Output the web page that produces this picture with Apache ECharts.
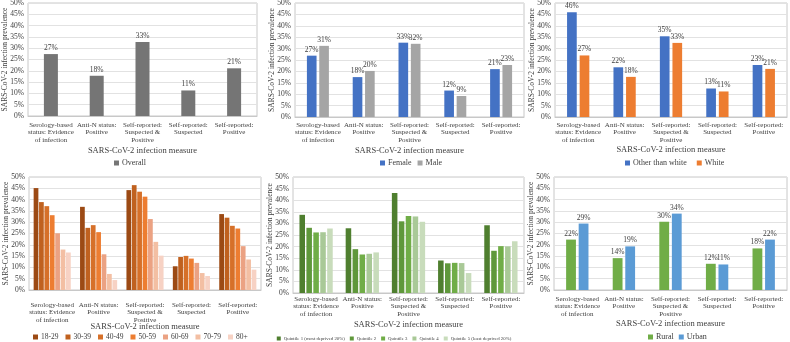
<!DOCTYPE html>
<html>
<head>
<meta charset="utf-8">
<script src="https://cdn.jsdelivr.net/npm/echarts@6/dist/echarts.min.js"></script>
<style>
body { margin: 0; background: #fff; }
.p { position: absolute; }
</style>
</head>
<body>
<div id="c1" class="p" style="left:0;top:0;width:263px;height:171px"></div>
<div id="c2" class="p" style="left:263px;top:0;width:262px;height:171px"></div>
<div id="c3" class="p" style="left:525px;top:0;width:265px;height:171px"></div>
<div id="c4" class="p" style="left:0;top:171px;width:263px;height:171px"></div>
<div id="c5" class="p" style="left:263px;top:171px;width:262px;height:171px"></div>
<div id="c6" class="p" style="left:525px;top:171px;width:265px;height:171px"></div>
<script>
const categories = [
    'Serology-based\nstatus: Evidence\nof infection',
    'Anti-N status:\nPositive',
    'Self-reported:\nSuspected &\nPositive',
    'Self-reported:\nSuspected',
    'Self-reported:\nPositive'
]
const xName = 'SARS-CoV-2 infection measure'
const yName = 'SARS-CoV-2 infection prevalence'

// overall
const overall = [27.4, 17.8, 32.7, 11.3, 21.1]
// sex
const female = [26.9, 17.5, 32.6, 11.6, 21.0]
const male = [31.2, 20.2, 32.1, 9.2, 22.8]
// ethnicity
const otherThanWhite = [45.9, 21.8, 35.4, 12.5, 22.8]
const white = [27.0, 17.6, 32.5, 11.2, 21.1]
// age groups
const ageNames = ['18-29', '30-39', '40-49', '50-59', '60-69', '70-79', '80+']
const age18 = [45.1, 36.8, 44.2, 10.5, 33.6]
const age30 = [38.9, 27.5, 46.4, 14.6, 32.0]
const age40 = [37.1, 28.7, 43.5, 15.1, 28.4]
const age50 = [33.1, 25.6, 41.3, 13.9, 27.2]
const age60 = [25.1, 15.8, 31.4, 12.0, 19.4]
const age70 = [17.9, 7.1, 21.3, 7.5, 13.5]
const age80 = [16.6, 4.4, 15.2, 6.2, 9.0]
// deprivation quintiles
const quintNames = ['Quintile 1 (most deprived 20%)', 'Quintile 2', 'Quintile 3', 'Quintile 4', 'Quintile 5 (least deprived 20%)']
const quint1 = [33.7, 27.9, 43.1, 14.0, 29.2]
const quint2 = [28.1, 18.9, 30.9, 12.8, 18.2]
const quint3 = [26.1, 16.6, 33.2, 13.0, 20.2]
const quint4 = [26.2, 16.9, 33.0, 12.9, 20.1]
const quint5 = [27.8, 17.5, 30.7, 8.6, 22.3]
// rural / urban
const rural = [22.3, 14.1, 30.2, 11.6, 18.4]
const urban = [29.4, 19.3, 33.8, 11.3, 22.3]

const font = 'Liberation Serif'
const txt = '#404040'

// p: grid, labelMargin, nameGap, legend position / font / gap
const build = function (id, p, series) {
    const chart = echarts.init(document.getElementById(id))
    const lf = p.legendFont || 8
    chart.setOption({
        animation: false,
        textStyle: { fontFamily: font, color: txt },
        grid: Object.assign({ show: true, borderColor: '#c8c8c8', borderWidth: 1, outerBoundsMode: 'none' }, p.grid),
        legend: {
            top: p.legendTop,
            left: p.legendLeft,
            padding: 0,
            icon: 'rect',
            itemWidth: lf < 7 ? 4 : 5,
            itemHeight: lf < 7 ? 4 : 5,
            itemGap: p.legendGap,
            textStyle: { fontFamily: font, fontSize: lf, color: txt, padding: [0, 0, 0, -2] }
        },
        xAxis: {
            type: 'category',
            data: categories,
            name: xName,
            nameLocation: 'middle',
            nameGap: p.nameGap,
            nameMoveOverlap: false,
            nameTextStyle: { fontFamily: font, fontSize: 8.5, color: txt },
            axisTick: { show: false },
            axisLine: { lineStyle: { color: '#c8c8c8' } },
            axisLabel: { fontFamily: font, fontSize: 7, color: txt, lineHeight: 7.5, margin: p.labelMargin, interval: 0 }
        },
        yAxis: {
            type: 'value',
            min: 0,
            max: 50,
            interval: 5,
            name: yName,
            nameLocation: 'middle',
            nameGap: 19,
            nameMoveOverlap: false,
            nameTextStyle: { fontFamily: font, fontSize: 7.5, color: txt },
            axisLabel: { formatter: '{value}%', fontFamily: font, fontSize: 7.5, color: txt, margin: 4 },
            splitLine: { lineStyle: { color: '#e2e2e2' } },
            axisLine: { show: false }
        },
        series: series
    })
}

const bar = function (name, data, color, labels, extra) {
    return Object.assign({
        type: 'bar',
        name: name,
        data: data,
        itemStyle: { color: color },
        label: {
            show: labels,
            position: 'top',
            distance: 2,
            fontFamily: font,
            fontSize: 7.5,
            color: txt,
            formatter: p => Math.round(p.value) + '%'
        }
    }, extra || {})
}

build('c1', { grid: { left: 28, width: 229, top: 3, height: 113 }, labelMargin: 5, nameGap: 30.5,
    legendTop: 159, legendLeft: 114, legendGap: 8 }, [
    bar('Overall', overall, '#757575', true, { barWidth: 14 })
])

build('c2', { grid: { left: 32, width: 229, top: 3, height: 114 }, labelMargin: 4, nameGap: 29.5,
    legendTop: 159, legendLeft: 117, legendGap: 6 }, [
    bar('Female', female, '#4472c4', true, { barGap: '28%', barCategoryGap: '52%' }),
    bar('Male', male, '#a5a5a5', true)
])

build('c3', { grid: { left: 30, width: 232, top: 3, height: 114 }, labelMargin: 4, nameGap: 28.5,
    legendTop: 159, legendLeft: 100, legendGap: 10 }, [
    bar('Other than white', otherThanWhite, '#4472c4', true, { barGap: '30%', barCategoryGap: '52%' }),
    bar('White', white, '#ed7d31', true)
])

const ageColors = ['#9c4a14', '#c0611f', '#d67029', '#ed7d31', '#eba283', '#f3bfa3', '#f7d2c4']
const ageData = [age18, age30, age40, age50, age60, age70, age80]
build('c4', { grid: { left: 29, width: 232, top: 6, height: 113 }, labelMargin: 11, nameGap: 32,
    legendTop: 162, legendLeft: 33, legendGap: 7, legendFont: 7.5 },
    ageData.map((d, i) => bar(ageNames[i], d, ageColors[i], false,
        i === 0 ? { barGap: '14%', barCategoryGap: '20%' } : {})))

const quintColors = ['#4f7f2f', '#5f983b', '#70ad47', '#a9c997', '#c8dcbb']
const quintData = [quint1, quint2, quint3, quint4, quint5]
build('c5', { grid: { left: 30, width: 231, top: 6, height: 116 }, labelMargin: 2, nameGap: 27.5,
    legendTop: 165, legendLeft: 'center', legendGap: 5, legendFont: 4.8 },
    quintData.map((d, i) => bar(quintNames[i], d, quintColors[i], false,
        i === 0 ? { barGap: '25%', barCategoryGap: '28%' } : {})))

build('c6', { grid: { left: 29, width: 233, top: 6, height: 113 }, labelMargin: 5, nameGap: 29.5,
    legendTop: 162, legendLeft: 123, legendGap: 5 }, [
    bar('Rural', rural, '#70ad47', true, { barGap: '28%', barCategoryGap: '52%' }),
    bar('Urban', urban, '#5b9bd5', true)
])
</script>
</body>
</html>
